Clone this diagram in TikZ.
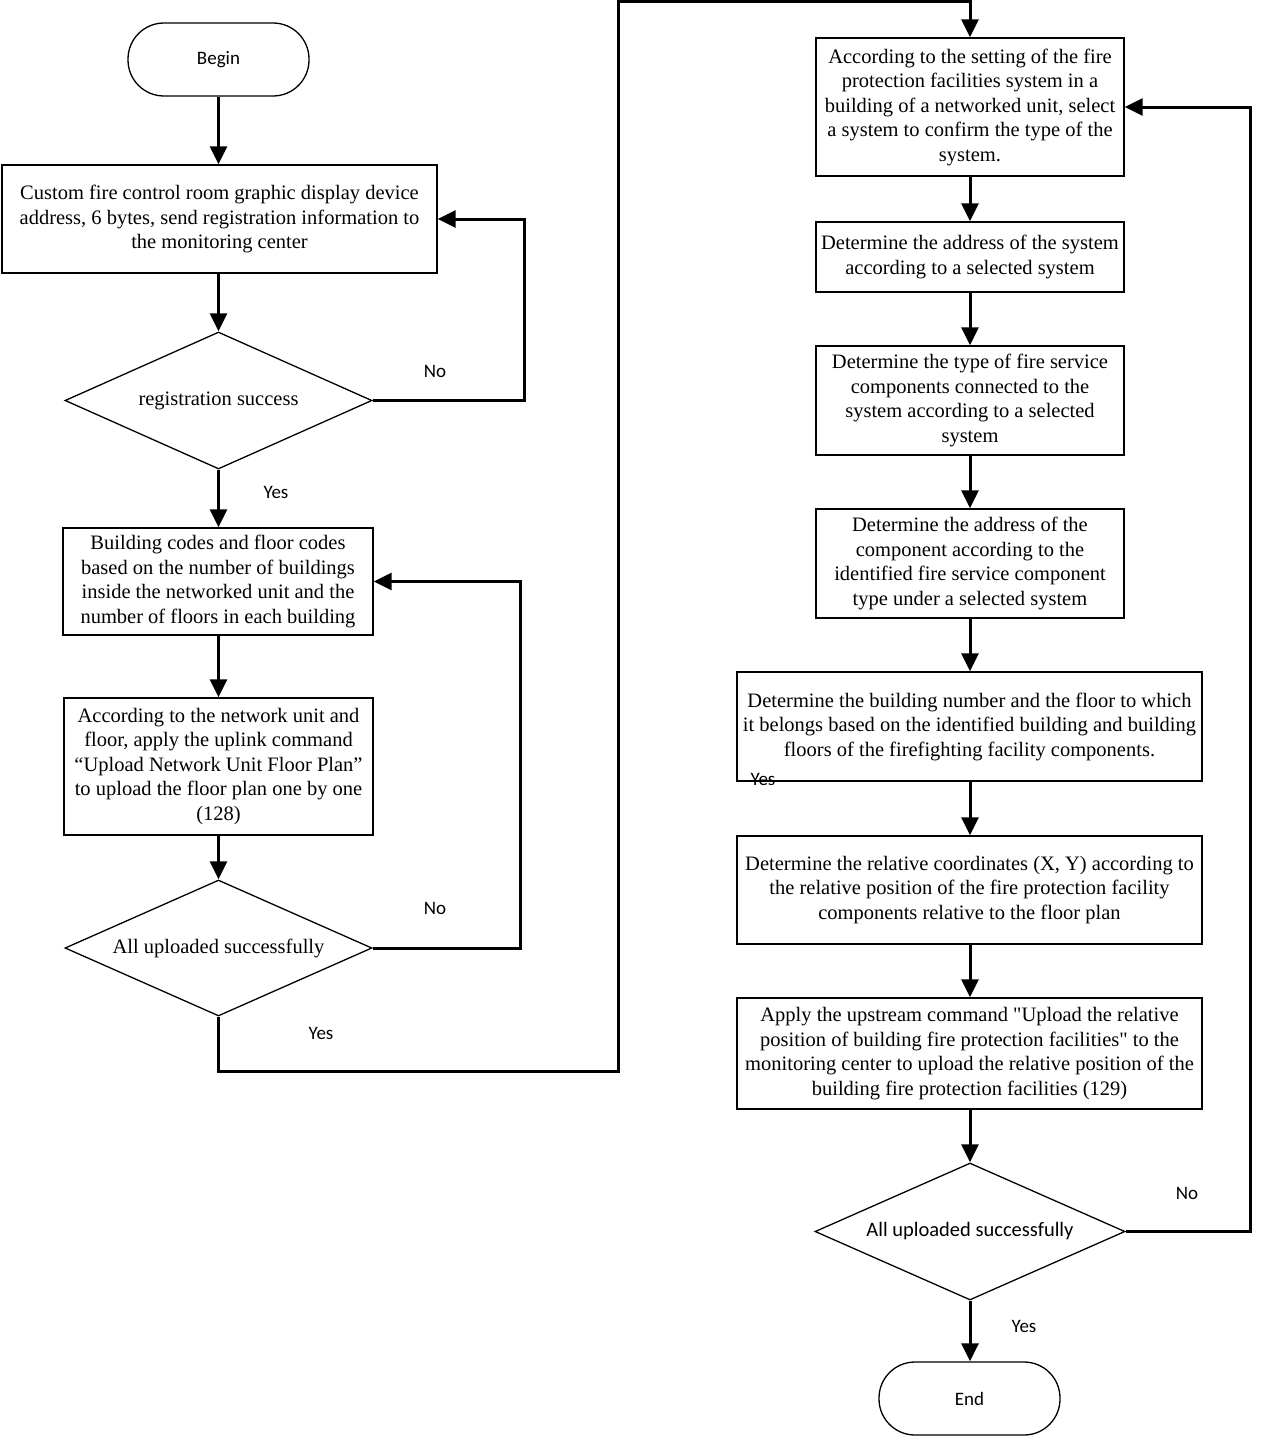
\documentclass[tikz,border=0pt]{standalone}
\usepackage{fontspec}
\setmainfont{Liberation Serif}
\newfontfamily\lab{Carlito}
\newcommand\strq{\XeTeXglyph\XeTeXcharglyph"22\relax}
\usetikzlibrary{shapes.geometric,arrows.meta}
\begin{document}
\begin{tikzpicture}[x=1pt,y=-1pt,
  box/.style={draw,line width=1.3pt,align=center,inner sep=0pt,font=\fontsize{20.5}{24.5}\selectfont},
  term/.style={draw,line width=1.3pt,rounded corners=36pt,font=\lab\fontsize{19}{23}\selectfont,minimum width=181pt,minimum height=73pt},
  dec/.style={draw,diamond,aspect=2.24,line width=1.3pt,inner sep=0pt,font=\fontsize{20.5}{23}\selectfont},
  arr/.style={line width=3pt,-{Triangle[length=18pt,width=17pt]}},
  lbl/.style={font=\lab\fontsize{19}{23}\selectfont}]
\useasboundingbox (0,0) rectangle (1270,1437);
\fill[white] (0,0) rectangle (1270,1437);

\node[term] (begin) at (218.5,59.5) {Begin};
\node[box,minimum width=435pt,minimum height=108pt] (b1) at (219.5,219) {Custom fire control room graphic display device\\ address, 6 bytes, send registration information to\\ the monitoring center};
\node[dec,minimum width=307pt,minimum height=137pt] (d1) at (218.5,400.5) {registration success};
\node[box,minimum width=310pt,minimum height=107pt] (b2) at (218,581.5) {Building codes and floor codes\\ based on the number of buildings\\ inside the networked unit and the\\ number of floors in each building};
\node[box,minimum width=309pt,minimum height=137pt] (b3) at (218.5,766.5) {According to the network unit and\\ floor, apply the uplink command\\ “Upload Network Unit Floor Plan”\\ to upload the floor plan one by one\\ (128)};
\node[dec,minimum width=307pt,minimum height=136pt] (d2) at (218.5,948) {All uploaded successfully};

\node[box,minimum width=308pt,minimum height=138pt] (b4) at (970,107) {According to the setting of the fire\\ protection facilities system in a\\ building of a networked unit, select\\ a system to confirm the type of the\\ system.};
\node[box,minimum width=308pt,minimum height=70pt] (b5) at (970,257) {Determine the address of the system\\ according to a selected system};
\node[box,minimum width=308pt,minimum height=109pt] (b6) at (970,400.5) {Determine the type of fire service\\ components connected to the\\ system according to a selected\\ system};
\node[box,minimum width=308pt,minimum height=109pt] (b7) at (970,563.5) {Determine the address of the\\ component according to the\\ identified fire service component\\ type under a selected system};
\node[box,minimum width=465pt,minimum height=109pt] (b8) at (969.5,726.5) {Determine the building number and the floor to which\\ it belongs based on the identified building and building\\ floors of the firefighting facility components.};
\node[box,minimum width=465pt,minimum height=108pt] (b9) at (969.5,890) {Determine the relative coordinates (X, Y) according to\\ the relative position of the fire protection facility\\ components relative to the floor plan};
\node[box,minimum width=465pt,minimum height=111pt] (b10) at (969.5,1053.5) {Apply the upstream command \strq Upload the relative\\ position of building fire protection facilities\strq{} to the\\ monitoring center to upload the relative position of the\\ building fire protection facilities (129)};
\node[dec,font=\lab\fontsize{20.5}{23}\selectfont,minimum width=310pt,minimum height=137pt] (d3) at (970,1231.5) {All uploaded successfully};
\node[term] (end) at (969.5,1398.5) {End};

\coordinate (c1) at (524,219);
\coordinate (c2) at (520,581.5);
\coordinate (c3) at (618,1071);
\coordinate (c4) at (618,2);
\coordinate (c5) at (1250,107);

\draw[arr] (begin.south) -- (begin.south |- b1.north);
\draw[arr] (b1.south -| begin.south) -- (d1.north);
\draw[arr] (d1.south) -- (d1.south |- b2.north);
\draw[arr] (d1.east) -| (c1) -- (b1.east);
\draw[arr] (b2.south -| d1.south) -- (d1.south |- b3.north);
\draw[arr] (b3.south) -- (d2.north);
\draw[arr] (d2.east) -| (c2) -- (b2.east);
\draw[arr] (d2.south) |- (c3) -- (c4) -| (b4.north);
\draw[arr] (b4) -- (b5);
\draw[arr] (b5) -- (b6);
\draw[arr] (b6) -- (b7);
\draw[arr] (b7.south) -- (b7.south |- b8.north);
\draw[arr] (b8.south -| b7.south) -- (b7.south |- b9.north);
\draw[arr] (b9.south -| b7.south) -- (b7.south |- b10.north);
\draw[arr] (b10.south -| d3.north) -- (d3.north);
\draw[arr] (d3.east) -| (c5) -- (b4.east);
\draw[arr] (d3.south) -- (d3.south |- end.north);

\node[lbl] (no1) at (435,371) {No};
\node[lbl] (yes1) at (276,492) {Yes};
\node[lbl] (no2) at (435,908) {No};
\node[lbl] (yes2) at (321,1033) {Yes};
\node[lbl] (yes3) at (763,779) {Yes};
\node[lbl] (no3) at (1187,1193) {No};
\node[lbl] (yes4) at (1024,1326) {Yes};
\end{tikzpicture}
\end{document}
